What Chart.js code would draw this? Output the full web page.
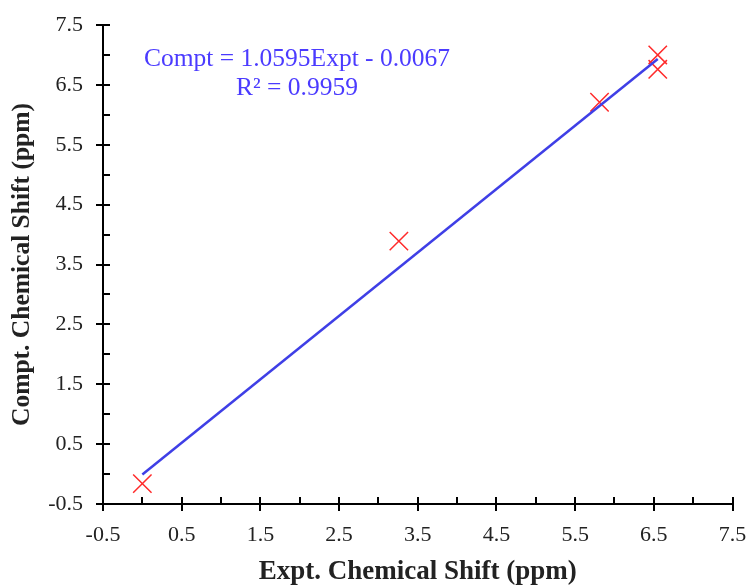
<!DOCTYPE html>
<html>
<head>
<meta charset="utf-8">
<script src="https://cdn.jsdelivr.net/npm/chart.js@4.4.1/dist/chart.umd.min.js"></script>
<style>
  html, body { margin: 0; padding: 0; background: #fff; }
  #wrap { width: 747px; height: 586px; }
</style>
</head>
<body>
<div id="wrap"><canvas id="shift-chart"></canvas></div>
<script>
const exptShift = [0.0, 3.26, 5.81, 6.55, 6.55];
const comptShift = [-0.16, 3.89, 6.21, 7.0, 6.76];
// trendline from the chart's own equation
const fitSlope = 1.0595;
const fitIntercept = -0.0067;
const fitLabels = ['Compt = 1.0595Expt - 0.0067', 'R² = 0.9959'];
const axisMin = -0.5;
const axisMax = 7.5;

const points = exptShift.map((x, i) => ({x: x, y: comptShift[i]}));
const xLo = Math.min(...exptShift), xHi = Math.max(...exptShift);
const fitLine = [
  {x: xLo, y: fitSlope * xLo + fitIntercept},
  {x: xHi, y: fitSlope * xHi + fitIntercept}
];

const serif = "'Liberation Serif', 'Times New Roman', serif";
const isMajor = v => Math.abs(Math.round(v * 2)) % 2 === 1;

// ticks drawn by hand: major ones cross the axis, minor ones only inside
const axisTicks = {
  id: 'axisTicks',
  afterDraw(chart) {
    const {ctx, chartArea: {left, bottom}, scales: {x, y}} = chart;
    ctx.save();
    ctx.strokeStyle = '#000';
    ctx.lineWidth = 2;
    ctx.beginPath();
    x.ticks.forEach(t => {
      const px = Math.round(x.getPixelForValue(t.value));
      ctx.moveTo(px, bottom - 7);
      ctx.lineTo(px, isMajor(t.value) ? bottom + 7 : bottom);
    });
    y.ticks.forEach(t => {
      const py = Math.round(y.getPixelForValue(t.value));
      ctx.moveTo(isMajor(t.value) ? left - 7 : left, py);
      ctx.lineTo(left + 7, py);
    });
    ctx.stroke();
    ctx.restore();
  }
};

const fitText = {
  id: 'fitText',
  afterDraw(chart) {
    const {ctx, chartArea: {left, top}} = chart;
    ctx.save();
    ctx.fillStyle = '#4b3bff';
    ctx.font = '25.5px ' + serif;
    ctx.textAlign = 'center';
    ctx.textBaseline = 'middle';
    ctx.fillText(fitLabels[0], left + 194, top + 34);
    ctx.fillText(fitLabels[1], left + 194, top + 63);
    ctx.restore();
  }
};

let shiftCanvas = document.getElementById('shift-chart').getContext('2d');
let shiftChart = new Chart(shiftCanvas, {
  type: 'scatter',
  data: {
    datasets: [
      {
        data: points,
        pointStyle: 'crossRot',
        pointRadius: 13,
        pointHoverRadius: 13,
        borderColor: '#ff2b2b',
        borderWidth: 1.5,
        order: 2
      },
      {
        type: 'line',
        data: fitLine,
        borderColor: '#3f3fe6',
        borderWidth: 2.5,
        pointRadius: 0,
        fill: false,
        order: 1
      }
    ]
  },
  options: {
    responsive: true,
    maintainAspectRatio: false,
    animation: false,
    layout: { padding: { top: 25, right: 14, bottom: 0, left: 0 } },
    plugins: { legend: { display: false }, tooltip: { enabled: false } },
    scales: {
      x: {
        type: 'linear',
        min: axisMin, max: axisMax,
        border: { display: true, color: '#000', width: 2 },
        grid: { display: false, drawTicks: false },
        ticks: {
          stepSize: 0.5, padding: 18, color: '#222', maxRotation: 0,
          autoSkip: false,
          font: { family: serif, size: 22 },
          callback: v => (isMajor(v) ? v.toFixed(1) : '')
        },
        title: {
          display: true, text: 'Expt. Chemical Shift (ppm)', color: '#222',
          font: { family: serif, size: 27, weight: 'bold', lineHeight: 1 },
          padding: { top: 6, bottom: 0 }
        },
        afterFit: s => { s.height = 82; s.paddingRight = 0; s.paddingLeft = 0; }
      },
      y: {
        type: 'linear',
        min: axisMin, max: axisMax,
        border: { display: true, color: '#000', width: 2 },
        grid: { display: false, drawTicks: false },
        ticks: {
          stepSize: 0.5, padding: 20, color: '#222', autoSkip: false,
          font: { family: serif, size: 22 },
          callback: v => (isMajor(v) ? v.toFixed(1) : '')
        },
        title: {
          display: true, text: 'Compt. Chemical Shift (ppm)', color: '#222',
          font: { family: serif, size: 25.5, weight: 'bold', lineHeight: 1 },
          padding: { top: 10, bottom: 0 }
        },
        afterFit: s => { s.width = 103; s.paddingTop = 0; s.paddingBottom = 0; }
      }
    }
  },
  plugins: [axisTicks, fitText]
});
</script>
</body>
</html>
